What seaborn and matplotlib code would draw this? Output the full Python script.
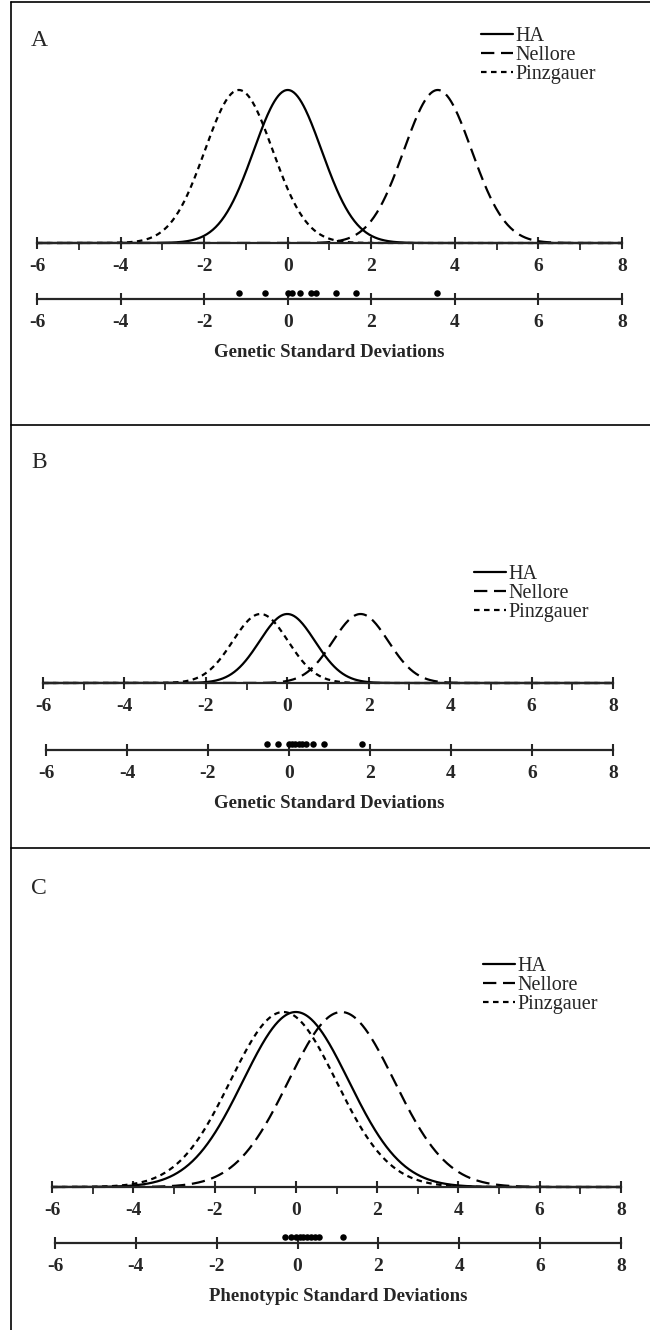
import numpy as np
import pandas as pd
import seaborn as sns
import matplotlib.pyplot as plt
from matplotlib.lines import Line2D
from matplotlib.ticker import MultipleLocator

# --- data ---
breeds = ['HA', 'Nellore', 'Pinzgauer']

# panel A: genetic standard deviations
means_a = [0.0, 3.59, -1.17]
sds_a = [0.81, 0.81, 0.81]
dots_a = [-1.17, -0.55, 0.0, 0.1, 0.29, 0.56, 0.68, 1.16, 1.64, 3.57]

# panel B: genetic standard deviations
means_b = [0.0, 1.80, -0.66]
sds_b = [0.68, 0.68, 0.68]
dots_b = [-0.55, -0.26, 0.0, 0.08, 0.16, 0.24, 0.32, 0.42, 0.59, 0.86, 1.80]

# panel C: phenotypic standard deviations
means_c = [0.0, 1.12, -0.31]
sds_c = [1.3, 1.3, 1.3]
dots_c = [-0.31, -0.17, -0.05, 0.05, 0.14, 0.23, 0.32, 0.42, 0.52, 1.12]

xlabels = ['Genetic Standard Deviations', 'Genetic Standard Deviations',
           'Phenotypic Standard Deviations']
panel_names = ['A', 'B', 'C']

sns.set_style('white')
plt.rcParams['font.family'] = ['Liberation Serif', 'DejaVu Serif']
plt.rcParams['axes.unicode_minus'] = False

W, H = 650, 1330
fig = plt.figure(figsize=(W / 100, H / 100), dpi=100)


def fx(px):
    return px / W


def fy(px):
    return 1 - px / H


def curves(means, sds):
    x = np.linspace(-6, 8, 600)
    rows = []
    for b, m, s in zip(breeds, means, sds):
        y = np.exp(-0.5 * ((x - m) / s) ** 2) / (s * np.sqrt(2 * np.pi))
        rows.append(pd.DataFrame({'x': x, 'y': y, 'breed': b}))
    return pd.concat(rows, ignore_index=True)


# layout in pixels: curve axis (left, right, axis y, peak y), dot axis (left, right, axis y),
# letter y, legend (x, y)
layout = [
    dict(c=(37, 622, 243, 90), d=(37, 622, 299), let=40, leg=(481, 27)),
    dict(c=(43, 613, 683, 614), d=(46, 613, 750), let=463, leg=(474, 565)),
    dict(c=(52, 621, 1187, 1012), d=(55, 621, 1243), let=888, leg=(483, 957)),
]
panels = [(means_a, sds_a, dots_a), (means_b, sds_b, dots_b), (means_c, sds_c, dots_c)]
dashes = {'HA': '', 'Nellore': (6, 3), 'Pinzgauer': (2.5, 2)}

for (means, sds, dots), lay, xl, name in zip(panels, layout, xlabels, panel_names):
    l, r, ya, yp = lay['c']
    ax = fig.add_axes([fx(l), fy(ya), fx(r - l), (ya - yp) / H])
    df = curves(means, sds)
    sns.lineplot(data=df, x='x', y='y', style='breed', dashes=dashes,
                 color='black', lw=1.6, ax=ax)
    ax.set_xlim(-6, 8)
    ax.set_ylim(0, df['y'].max())
    for ln in ax.lines:
        ln.set_clip_on(False)
    ax.xaxis.set_major_locator(MultipleLocator(2))
    ax.xaxis.set_minor_locator(MultipleLocator(1))
    ax.tick_params(axis='x', which='major', direction='inout', length=9, width=1.5,
                   pad=6, labelsize=14, bottom=True)
    ax.tick_params(axis='x', which='minor', direction='out', length=5, width=1.3, bottom=True)
    ax.set_yticks([])
    ax.set_xlabel('')
    ax.set_ylabel('')
    sns.despine(ax=ax, left=True)
    ax.spines['bottom'].set_linewidth(1.6)
    for t in ax.get_xticklabels():
        t.set_fontweight('bold')

    handles, labels = ax.get_legend_handles_labels()
    ax.legend(handles, labels, loc='upper left',
              bbox_to_anchor=(fx(lay['leg'][0]), fy(lay['leg'][1])),
              bbox_transform=fig.transFigure, frameon=False, fontsize=14.5,
              handlelength=1.6, handletextpad=0.1, labelspacing=0.0,
              borderpad=0, borderaxespad=0)

    # dot strip
    dl, dr, dy = lay['d']
    axd = fig.add_axes([fx(dl), fy(dy), fx(dr - dl), 12 / H])
    sns.scatterplot(x=dots, y=[0.5] * len(dots), color='black', s=22,
                    edgecolor='black', linewidth=0, ax=axd, clip_on=False)
    axd.set_xlim(-6, 8)
    axd.set_ylim(0, 1)
    axd.xaxis.set_major_locator(MultipleLocator(2))
    axd.tick_params(axis='x', which='major', direction='inout', length=9, width=1.5,
                    pad=6, labelsize=14, bottom=True)
    axd.set_yticks([])
    sns.despine(ax=axd, left=True)
    axd.spines['bottom'].set_linewidth(1.6)
    for t in axd.get_xticklabels():
        t.set_fontweight('bold')
    axd.set_xlabel(xl, fontsize=13.5, fontweight='bold', labelpad=10)

    fig.text(fx(31), fy(lay['let']), name, fontsize=17, va='center', ha='left')

# frame
fig.add_artist(Line2D([fx(11), fx(11)], [0, fy(2)], transform=fig.transFigure, color='black', lw=1.2))
for yy in [2, 425, 848]:
    fig.add_artist(Line2D([fx(11), 1], [fy(yy), fy(yy)], transform=fig.transFigure,
                          color='black', lw=1.2))

fig.savefig('out.png', dpi=100)
